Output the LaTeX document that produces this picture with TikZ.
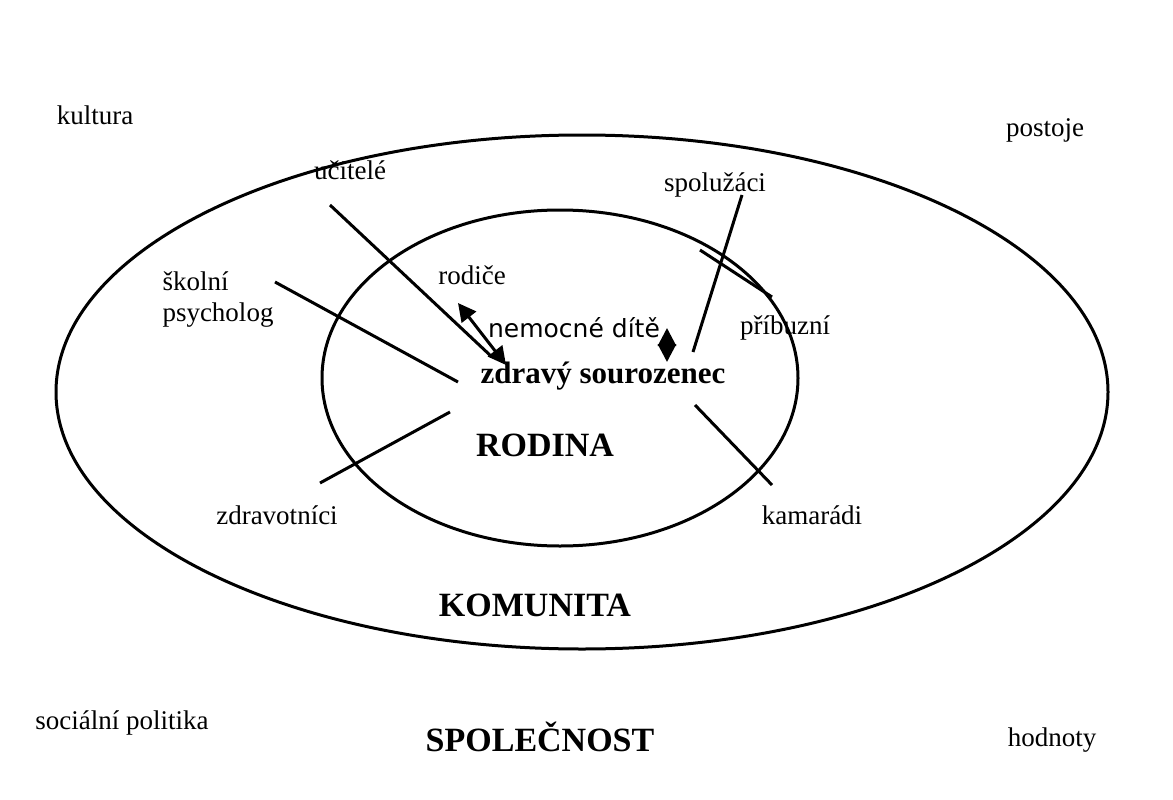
\documentclass[tikz,border=0pt]{standalone}
\usepackage{fontspec}
\usetikzlibrary{arrows.meta}
\setmainfont{Liberation Serif}
\newfontfamily\verd{DejaVu Sans}
\begin{document}
\begin{tikzpicture}[x=1pt,y=-1pt]
        \tikzstyle{lbl}=[font=\fontsize{27}{31}\selectfont,inner sep=1pt]
        \tikzstyle{big}=[font=\fontsize{34}{38}\selectfont\bfseries,inner sep=1pt]
        \tikzstyle{edge}=[draw=black, line width=3pt]
        \tikzstyle{dbl}=[edge,{Triangle[length=18pt,width=18pt]}-{Triangle[length=18pt,width=18pt]}]

        \useasboundingbox (0,0) rectangle (1173,800);

        % circles
        \draw[line width=3pt] (582,392) ellipse [x radius=526, y radius=257];
        \draw[line width=3pt] (560,378) ellipse [x radius=238, y radius=168];

        % corner labels
        \node [lbl] (kult) at (95,115) {kultura};
        \node [lbl] (post) at (1045,130) {postoje};
        \node [lbl] (socp) at (122,723) {sociální politika};
        \node [lbl] (hodn) at (1052,740) {hodnoty};
        \node [big] (spol) at (540,737) {SPOLEČNOST};
        \node [big] (komu) at (535,605) {KOMUNITA};
        \node [big] (rodi) at (545,445) {RODINA};

        % people
        \node [lbl] (ucit) at (350,170) {učitelé};
        \node [lbl] (spoz) at (715,185) {spolužáci};
        \node [lbl, align=left] (skol) at (218,300) {školní\\psycholog};
        \node [lbl] (rodc) at (472,275) {rodiče};
        \node [lbl] (pribu) at (785,328) {příbuzní};
        \node [lbl] (zdrv) at (277,515) {zdravotníci};
        \node [lbl] (kama) at (812,515) {kamarádi};
        \node [font=\verd\fontsize{25}{28}\selectfont,inner sep=1pt] (nemo) at (574,328) {nemocné dítě};
        \node [font=\fontsize{31}{34}\selectfont\bfseries,inner sep=1pt] (zdsr) at (603,376) {zdravý sourozenec};

        \coordinate (c1) at (492,357);
        \coordinate (c2) at (458,382);
        \coordinate (c3) at (450,412);
        \coordinate (c4) at (693,352);
        \coordinate (c5) at (700,250);
        \coordinate (c6) at (695,405);
        \coordinate (c7) at (772,297);
        \coordinate (c8) at (772,485);
        \coordinate (u1) at (330,205);
        \coordinate (s1) at (275,282);
        \coordinate (z1) at (320,483);
        \coordinate (p1) at (742,195);

        \path[edge] (u1) -- (c1);
        \path[edge] (s1) -- (c2);
        \path[edge] (z1) -- (c3);
        \path[edge] (p1) -- (c4);
        \path[edge] (c5) -- (c7);
        \path[edge] (c6) -- (c8);

        \coordinate (a1) at (458,303);
        \coordinate (a2) at (506,365);
        \coordinate (a3) at (667,328);
        \coordinate (a4) at (667,362);
        \path[dbl] (a1) -- (a2);
        \path[dbl] (a3) -- (a4);
\end{tikzpicture}
\end{document}
